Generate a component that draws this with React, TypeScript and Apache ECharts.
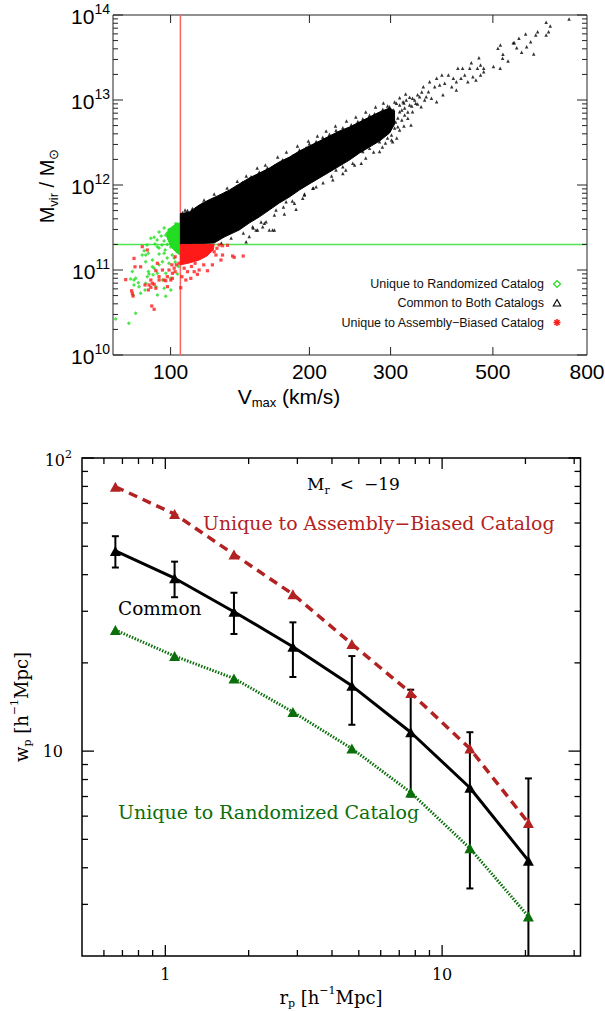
import { useEffect, useRef } from 'react';
import * as echarts from 'echarts';

type Pt = [number, number];

// ---------- Top panel: halo virial mass vs. maximum circular velocity ----------
const VMAX_CUT = 105; // km/s
const MVIR_CUT = 2.0e11; // Msun

const vmaxRange: Pt = [75, 800];
const mvirRange: Pt = [1e10, 1e14];
const vmaxTickValues = [100, 200, 300, 500];
const vmaxTickLabels = [100, 200, 300, 500, 800];
const mvirExponents = [10, 11, 12, 13, 14];
const minorSteps = [2, 3, 4, 5, 6, 7, 8, 9];

// dense ridge of haloes common to both catalogs (upper envelope, left to right)
const commonCoreUpper: Pt[] = [
  [105, 4.6e11], [109.7, 4.8e11], [115.3, 5.8e11], [121.2, 6.7e11], [127.5, 7.6e11],
  [134, 8.7e11], [140.9, 1.03e12], [148.1, 1.21e12], [155.7, 1.38e12], [163.7, 1.58e12],
  [172.1, 1.87e12], [181, 2.13e12], [190.3, 2.51e12], [200, 2.88e12], [210.3, 3.29e12],
  [221.1, 3.77e12], [232.4, 4.32e12], [244.4, 4.81e12], [256.9, 5.51e12], [270.1, 6.31e12],
  [283.9, 7.23e12], [298.5, 8.05e12], [306, 7.4e12],
];
// lower envelope, right to left
const commonCoreLower: Pt[] = [
  [306, 5.2e12], [298.5, 4.09e12], [283.9, 3.29e12], [270.1, 2.8e12], [256.9, 2.38e12],
  [244.4, 1.97e12], [232.4, 1.67e12], [221.1, 1.42e12], [210.3, 1.21e12], [200, 1.03e12],
  [190.3, 8.73e11], [181, 7.23e11], [172.1, 6.14e11], [163.7, 5.08e11], [155.7, 4.21e11],
  [148.1, 3.57e11], [140.9, 2.96e11], [130.7, 2.44e11], [124.3, 2.08e11], [105, 2.0e11],
];
const commonHalos: Pt[] = [
  // below the ridge
  [145.8, 2.15e11], [148.1, 2.47e11], [154.4, 2.96e11], [158.4, 3.23e11], [163.7, 2.96e11],
  [167.9, 2.96e11], [161.1, 3.7e11], [169.3, 5.08e11], [176.5, 4.56e11], [178, 6.37e11],
  [187.1, 5.18e11], [193.4, 6.98e11], [195.1, 7.62e11], [203.4, 9.14e11], [206.8, 9.55e11],
  [224.8, 1.15e12], [228.4, 1.5e12], [236.3, 1.37e12], [236.3, 1.64e12], [248.3, 1.8e12],
  [259.1, 1.8e12], [261.1, 2.47e12], [270.1, 2.7e12], [283.9, 3.23e12], [288.6, 4.24e12],
  [283.9, 2.47e12], [153.2, 2.96e11], [166.4, 2.96e11], [185.6, 6.1e11], [150.6, 3.23e11],
  [159.7, 3.54e11],
  [128.8, 2.08e11], [135.3, 2.38e11], [143.8, 2.72e11], [151.1, 3.12e11], [157.1, 3.67e11],
  [167.9, 4.44e11], [175.7, 5.51e11], [183.7, 6.49e11], [195.1, 7.83e11], [204.1, 9.22e11],
  [214.1, 1.06e12], [223.4, 1.28e12], [239.9, 1.5e12], [250.6, 1.72e12], [265, 2.08e12],
  [275.6, 2.44e12], [287.9, 2.8e12], [301.4, 3.38e12],
  // above the ridge
  [106.1, 4.7e11], [108.8, 5.0e11], [111.5, 5.3e11], [117.3, 6.0e11], [127.5, 7.4e11],
  [131.8, 8.1e11], [138.6, 9.4e11], [143.3, 1.07e12], [149.4, 1.25e12], [155.7, 1.42e12],
  [162.2, 1.6e12], [167.9, 1.68e12], [175, 1.98e12], [184, 2.2e12], [190.3, 2.58e12],
  [196.8, 2.75e12], [200, 3.05e12], [206.8, 3.25e12], [213.8, 3.65e12], [221.1, 3.95e12],
  [228.4, 4.4e12], [236.3, 4.7e12], [246.5, 5.1e12], [254.7, 5.6e12], [261.1, 6.0e12],
  [270.1, 6.6e12], [276.9, 6.9e12], [288.6, 7.8e12], [295.5, 8.5e12],
  [107.5, 5.08e11], [118.2, 6.67e11], [124.3, 7.83e11], [132.6, 9.22e11], [139.5, 1.11e12],
  [145.9, 1.28e12], [154.1, 1.58e12], [160.5, 1.72e12], [170.7, 2.13e12], [178.3, 2.44e12],
  [188.4, 2.88e12], [199, 3.29e12], [208.1, 3.77e12], [217.4, 4.32e12], [227.8, 4.94e12],
  [240.7, 5.66e12], [252.2, 6.31e12], [265, 7.23e12], [278.3, 8.28e12], [289.4, 9.23e12],
  // end of the ridge
  [313.8, 8.73e12], [317.3, 7.62e12], [320.7, 9.2e12], [311, 6.14e12], [307.6, 5.5e12],
  [317.3, 5.82e12], [321.8, 8.05e12], [326.9, 7.23e12], [333.4, 8.5e12], [338.3, 1.0e13],
  [343.4, 8.97e12], [343.4, 1.15e13], [350.5, 1.24e13], [355.6, 1.0e13], [329.9, 1.08e13],
  [323.4, 1.18e13], [313.8, 1.06e13], [306.1, 9.47e12], [304.5, 7.62e12], [306.1, 4.69e12],
  [301.4, 3.87e12], [295.5, 3.57e12], [292.4, 3.12e12], [313.8, 4.44e12], [320.7, 4.94e12],
  [309.4, 3.57e12],
  // sparse high-mass tail
  [303.1, 3.23e12], [311, 4.86e12], [291.1, 5.32e12], [301, 6.67e12], [298.5, 8.34e12],
  [308.9, 9.14e12], [313.8, 7.27e12], [321.8, 6.67e12], [326.9, 6.1e12], [332.2, 5.08e12],
  [334.7, 7.27e12], [329.9, 8.73e12], [319.3, 9.55e12], [324.4, 1.0e13], [334.7, 1.05e13],
  [340.2, 9.14e12], [349.4, 8.34e12], [346.8, 1.09e13], [358.4, 1.09e13], [367.9, 1.05e13],
  [377.5, 9.55e12], [389.6, 1.15e13], [362.4, 1.25e13], [353.2, 1.43e13], [373.9, 1.43e13],
  [383.3, 1.5e13], [393, 1.57e13], [364.6, 1.64e13], [377.5, 1.8e13], [387.6, 1.97e13],
  [400.4, 1.97e13], [407.2, 1.43e13], [416.6, 1.31e13], [410.3, 1.8e13], [416.6, 1.64e13],
  [426.4, 1.8e13], [434.4, 1.97e13], [419.8, 2.36e13], [429.7, 2.36e13], [441.1, 1.64e13],
  [445.4, 2.36e13], [449, 2.75e13], [452.4, 1.88e13], [459.4, 1.72e13], [462.9, 2.36e13],
  [470.1, 2.58e13], [470.1, 1.97e13], [477.6, 2.36e13], [477.6, 2.15e13], [466.4, 3.15e13],
  [501.4, 2.47e13], [518.6, 2.36e13], [512.7, 4.06e13], [519.1, 4.44e13], [525.8, 3.45e13],
  [524.8, 3.1e13], [539.3, 2.88e13], [556.4, 4.72e13], [569.4, 5.32e13], [563.1, 4.12e13],
  [577.1, 3.64e13], [588.9, 5.98e13], [591.8, 4.24e13], [553.6, 4.72e13], [613.1, 3.48e13],
  [603.8, 4.85e13], [619.4, 5.82e13], [625.2, 6.37e13], [652.2, 8.2e13], [665.8, 7.43e13],
  [660.3, 6.37e13], [652.2, 5.82e13], [731.5, 8.97e13],
];

// haloes found only in the randomized catalog
const randomizedCore: Pt[] = [
  [105, 3.6e11], [102, 3.4e11], [99, 3.0e11], [98, 2.5e11], [100, 1.9e11],
  [103, 1.6e11], [105, 1.5e11],
];
const randomizedHalos: Pt[] = [
  [76, 2.65e10], [81.2, 2.36e10], [84, 3.1e10], [83.3, 6.67e10], [84, 7.98e10],
  [85.4, 6.37e10], [86.1, 5.32e10], [88.3, 6.98e10], [89, 8.34e10], [89.5, 1.57e11],
  [91.3, 1.31e11], [92.1, 1.05e11], [90.6, 2.36e11], [92.1, 2.43e11], [93.6, 1.88e11],
  [94.4, 1.54e11], [96, 1.25e11], [96.8, 1.57e11], [97.6, 9.14e10], [99.2, 1.2e11],
  [100.1, 7.98e10], [96, 7.62e10], [92.9, 6.37e10], [87.6, 1.68e11], [97.6, 2.58e11],
  [83.3, 7.62e10], [81.9, 7.83e10], [91.3, 1.09e11], [93.6, 5.08e10], [96.8, 6.1e10],
  [94.4, 1.15e11], [93.6, 9.14e10], [88.3, 1.25e11], [89.8, 8.97e10], [82.9, 5.08e10],
  [88, 5.82e10], [86.8, 1.5e11], [102.6, 3.5e11], [99.2, 2.97e11], [101.3, 2.25e11],
  [103.3, 1.74e11], [98.3, 2.0e11], [101.8, 1.38e11], [82.6, 9.6e10], [85.1, 7.1e10],
  [97.6, 4.9e10], [100.1, 5.8e10], [88.3, 1.5e11], [89.5, 9.6e10], [91.6, 8.8e10],
  [94.4, 2.8e11], [96.8, 3.12e11], [88.9, 1.97e11], [103.5, 9.0e10], [104, 1.1e11],
  [93.5, 2.25e11], [95.4, 2.51e11], [96.8, 2.19e11], [98.3, 2.72e11], [99.2, 2.32e11],
  [100.1, 1.87e11], [97.3, 1.72e11], [94.4, 1.82e11], [101.8, 3.12e11], [103.4, 3.48e11],
  [100.8, 1.5e11], [98.3, 1.38e11], [95.8, 1.97e11], [92.5, 2.02e11], [102.3, 1.24e11],
];

// haloes found only in the assembly-biased catalog
const biasedCore: Pt[] = [
  [105, 2.0e11], [124.3, 2.0e11], [123.7, 1.72e11], [119.9, 1.46e11], [115.3, 1.31e11],
  [109.7, 1.21e11], [105, 1.15e11],
];
const biasedHalos: Pt[] = [
  [79.9, 7.7e10], [82.3, 5.7e10], [82.9, 4.94e10], [83.3, 1.37e11], [83.7, 1.09e11],
  [86.1, 1.09e11], [86.8, 1.88e11], [88, 6.67e10], [89.5, 5.82e10], [90.6, 6.25e10],
  [92.1, 6.79e10], [91, 3.77e10], [92.1, 3.45e10], [92.9, 9.82e10], [93.6, 1.2e11],
  [94.4, 8.34e10], [96, 1.0e11], [97.6, 7.48e10], [98.4, 8.34e10], [99.2, 1.0e11],
  [100.6, 1.15e11], [101.8, 1.05e11], [102.3, 1.43e11], [100.9, 7.98e10], [104.3, 1.2e11],
  [90.6, 7.62e10], [89, 1.72e11], [89.8, 6.67e10], [91.3, 6.98e10], [94.4, 7.62e10],
  [92.9, 6.1e10], [96.8, 7.62e10], [98.4, 6.37e10], [100.1, 7.62e10], [100.9, 9.14e10],
  [102.3, 9.55e10], [102.9, 1.15e11], [105.2, 6.19e10], [105.8, 8.34e10], [107.9, 7.62e10],
  [110.6, 7.98e10], [112.5, 9.55e10], [114.3, 8.89e10], [115.3, 1.0e11], [120.2, 9.8e10],
  [123.2, 1.15e11], [128.6, 1.31e11], [129.6, 1.5e11], [137.4, 1.41e11], [143.7, 1.46e11],
  [124.3, 1.64e11], [127.5, 1.97e11], [132.9, 1.95e11], [108.8, 9.55e10], [107, 1.05e11],
  [129.6, 1.93e11], [125.4, 1.5e11], [136.3, 1.46e11], [82.6, 5.3e10], [111, 1.1e11],
  [118, 1.15e11], [113, 1.2e11], [126, 1.8e11], [121, 1.85e11],
];

// ---------- Bottom panel: projected correlation function ----------
const rpRange: Pt = [0.5, 31.62];
const wpRange: Pt = [2, 100];
const rpMajorTicks = [1, 10];
const rpMinorTicks = [0.6, 0.7, 0.8, 0.9, 2, 3, 4, 5, 6, 7, 8, 9, 20, 30];
const wpMajorTicks = [10, 100];
const wpMinorTicks = [3, 4, 5, 6, 7, 8, 9, 20, 30, 40, 50, 60, 70, 80, 90];

const rp = [0.66, 1.08, 1.77, 2.89, 4.72, 7.7, 12.6, 20.5];
const wpAssemblyBiased = [79.8, 64.4, 46.9, 34.3, 23.2, 15.8, 10.2, 5.69];
const wpCommon = [48.2, 38.9, 29.9, 22.7, 16.7, 11.6, 7.5, 4.23];
const wpCommonErr = [5.9, 5.4, 4.8, 4.8, 4.4, 4.6, 4.1, 3.84];
const wpRandomized = [25.9, 21.1, 17.7, 13.6, 10.2, 7.23, 4.66, 2.73];

const SANS = '"Liberation Sans", Arial, Helvetica, sans-serif';
const SERIF = '"DejaVu Serif", serif';
const RED_BIASED = '#b22222';
const GREEN_RANDOM = '#0a6f0a';

function seg(kids: any[], x1: number, y1: number, x2: number, y2: number, stroke: string, lw: number) {
  kids.push({ type: 'line', shape: { x1, y1, x2, y2 }, style: { stroke, lineWidth: lw } });
}

// tick marks and tick labels of the halo panel
function renderTopFrame(params: any, api: any) {
  if (params.dataIndex !== 0) return null;
  const cs = params.coordSys;
  const L = cs.x, R = cs.x + cs.width, T = cs.y, B = cs.y + cs.height;
  const kids: any[] = [];
  const ink = '#222';
  for (const e of mvirExponents) {
    const base = Math.pow(10, e);
    const y = api.coord([100, base])[1];
    seg(kids, L, y, L + 10, y, ink, 1);
    seg(kids, R, y, R - 10, y, ink, 1);
    kids.push({
      type: 'text', x: L - 3, y: y + 1,
      style: {
        text: `{b|10}{p|${e}}`, align: 'right', verticalAlign: 'middle', fill: '#000',
        rich: {
          b: { fontSize: 21, fontFamily: SANS, lineHeight: 28, fill: '#000' },
          p: { fontSize: 14, fontFamily: SANS, lineHeight: 12, verticalAlign: 'top', fill: '#000' },
        },
      },
    });
    if (e < mvirExponents[mvirExponents.length - 1]) {
      for (const k of minorSteps) {
        const ym = api.coord([100, k * base])[1];
        seg(kids, L, ym, L + 5, ym, ink, 1);
        seg(kids, R, ym, R - 5, ym, ink, 1);
      }
    }
  }
  for (const v of vmaxTickValues) {
    const x = api.coord([v, 1e12])[0];
    seg(kids, x, B, x, B - 8, ink, 1);
    seg(kids, x, T, x, T + 8, ink, 1);
  }
  for (const v of vmaxTickLabels) {
    const x = api.coord([v, 1e12])[0];
    kids.push({
      type: 'text', x, y: B + 16,
      style: { text: String(v), align: 'center', verticalAlign: 'middle', fill: '#000', fontSize: 21, fontFamily: SANS },
    });
  }
  return { type: 'group', children: kids };
}

// tick marks and tick labels of the correlation-function panel
function renderBottomFrame(params: any, api: any) {
  if (params.dataIndex !== 0) return null;
  const cs = params.coordSys;
  const L = cs.x, R = cs.x + cs.width, T = cs.y, B = cs.y + cs.height;
  const kids: any[] = [];
  const ink = '#000';
  for (const w of wpMajorTicks) {
    const y = api.coord([1, w])[1];
    seg(kids, L, y, L + 12, y, ink, 1.3);
    seg(kids, R, y, R - 12, y, ink, 1.3);
  }
  for (const w of wpMinorTicks) {
    const y = api.coord([1, w])[1];
    seg(kids, L, y, L + 6, y, ink, 1.3);
    seg(kids, R, y, R - 6, y, ink, 1.3);
  }
  for (const r of rpMajorTicks) {
    const x = api.coord([r, 10])[0];
    seg(kids, x, B, x, B - 11, ink, 1.3);
    seg(kids, x, T, x, T + 11, ink, 1.3);
    kids.push({
      type: 'text', x, y: B + 18,
      style: { text: String(r), align: 'center', verticalAlign: 'middle', fill: '#000', fontSize: 16, fontFamily: SERIF },
    });
  }
  for (const r of rpMinorTicks) {
    const x = api.coord([r, 10])[0];
    seg(kids, x, B, x, B - 6, ink, 1.3);
    seg(kids, x, T, x, T + 6, ink, 1.3);
  }
  const y10 = api.coord([1, 10])[1];
  kids.push({
    type: 'text', x: L - 19, y: y10,
    style: { text: '10', align: 'right', verticalAlign: 'middle', fill: '#000', fontSize: 16, fontFamily: SERIF },
  });
  const y100 = api.coord([1, 100])[1];
  kids.push({
    type: 'text', x: L - 10, y: y100 + 2,
    style: {
      text: '{b|10}{p|2}', align: 'right', verticalAlign: 'middle', fill: '#000',
      rich: {
        b: { fontSize: 16, fontFamily: SERIF, lineHeight: 22, fill: '#000' },
        p: { fontSize: 11, fontFamily: SERIF, lineHeight: 10, verticalAlign: 'top', fill: '#000' },
      },
    },
  });
  return { type: 'group', children: kids };
}

function envelopeSeries(name: string, verts: Pt[], color: string, z: number) {
  return {
    type: 'custom', name, xAxisIndex: 0, yAxisIndex: 0, silent: true, z,
    data: verts,
    renderItem: (params: any, api: any) => {
      if (params.dataIndex !== 0) return null;
      const pts = verts.map((v) => api.coord(v));
      return { type: 'polygon', shape: { points: pts }, style: { fill: color, stroke: color, lineWidth: 1 } };
    },
  };
}

function App() {
  const ref = useRef<HTMLDivElement>(null);

  useEffect(() => {
    if (!ref.current) return;
    const chart = echarts.init(ref.current, null, { renderer: 'svg' });

    const commonCore = [...commonCoreUpper, ...commonCoreLower];

    const option: any = {
      animation: false,
      backgroundColor: '#fff',
      grid: [
        { left: 113, top: 15, width: 474, height: 340, show: true, borderColor: '#222', borderWidth: 1, backgroundColor: 'transparent' },
        { left: 82, top: 458, width: 498.5, height: 498, show: true, borderColor: '#000', borderWidth: 1.5, backgroundColor: 'transparent' },
      ],
      xAxis: [
        { type: 'log', logBase: 10, min: vmaxRange[0], max: vmaxRange[1], gridIndex: 0, show: false },
        { type: 'log', logBase: 10, min: rpRange[0], max: rpRange[1], gridIndex: 1, show: false },
      ],
      yAxis: [
        { type: 'log', logBase: 10, min: mvirRange[0], max: mvirRange[1], gridIndex: 0, show: false },
        { type: 'log', logBase: 10, min: wpRange[0], max: wpRange[1], gridIndex: 1, show: false },
      ],
      series: [
        {
          type: 'custom', name: 'topFrame', xAxisIndex: 0, yAxisIndex: 0, silent: true, z: 10,
          data: [[100, 1e12]], renderItem: renderTopFrame,
        },
        {
          type: 'line', name: 'Mvir cut', xAxisIndex: 0, yAxisIndex: 0, silent: true, z: 1,
          data: [[vmaxRange[0], MVIR_CUT], [vmaxRange[1], MVIR_CUT]],
          symbol: 'none', lineStyle: { color: '#4fe34f', width: 1.5 },
        },
        {
          type: 'line', name: 'Vmax cut', xAxisIndex: 0, yAxisIndex: 0, silent: true, z: 1,
          data: [[VMAX_CUT, mvirRange[0]], [VMAX_CUT, mvirRange[1]]],
          symbol: 'none', lineStyle: { color: '#ff6262', width: 1.5 },
        },
        envelopeSeries('randomizedCore', randomizedCore, '#22dd22', 2),
        {
          type: 'scatter', name: 'Unique to Randomized Catalog', xAxisIndex: 0, yAxisIndex: 0, silent: true, z: 2,
          data: randomizedHalos, symbol: 'diamond', symbolSize: 4, itemStyle: { color: '#22dd22' },
        },
        envelopeSeries('commonCore', commonCore, '#000', 3),
        {
          type: 'scatter', name: 'Common to Both Catalogs', xAxisIndex: 0, yAxisIndex: 0, silent: true, z: 3,
          data: commonHalos, symbol: 'triangle', symbolSize: 3.5, itemStyle: { color: '#000' },
        },
        envelopeSeries('biasedCore', biasedCore, '#ff1a1a', 4),
        {
          type: 'scatter', name: 'Unique to Assembly-Biased Catalog', xAxisIndex: 0, yAxisIndex: 0, silent: true, z: 4,
          data: biasedHalos, symbol: 'rect', symbolSize: 3.2, itemStyle: { color: '#ff1a1a' },
        },

        {
          type: 'custom', name: 'bottomFrame', xAxisIndex: 1, yAxisIndex: 1, silent: true, z: 10,
          data: [[1, 10]], renderItem: renderBottomFrame,
        },
        {
          type: 'custom', name: 'Common errors', xAxisIndex: 1, yAxisIndex: 1, silent: true, z: 2,
          data: rp.map((r, i) => [r, wpCommon[i], wpCommonErr[i]]),
          renderItem: (params: any, api: any) => {
            const r = api.value(0), w = api.value(1), e = api.value(2);
            const hiPt = api.coord([r, w + e]);
            const lowVal = w - e;
            const clipped = lowVal <= wpRange[0];
            const loPt = api.coord([r, clipped ? wpRange[0] : lowVal]);
            const cap = 3.5;
            const kids: any[] = [];
            seg(kids, hiPt[0], hiPt[1], loPt[0], loPt[1], '#000', 2);
            seg(kids, hiPt[0] - cap, hiPt[1], hiPt[0] + cap, hiPt[1], '#000', 2);
            if (!clipped) seg(kids, loPt[0] - cap, loPt[1], loPt[0] + cap, loPt[1], '#000', 2);
            return { type: 'group', children: kids };
          },
        },
        {
          type: 'line', name: 'Common', xAxisIndex: 1, yAxisIndex: 1, silent: true, z: 3,
          data: rp.map((r, i) => [r, wpCommon[i]]),
          symbol: 'triangle', symbolSize: [11, 10], showAllSymbol: true,
          lineStyle: { color: '#000', width: 3 }, itemStyle: { color: '#000' },
        },
        {
          type: 'line', name: 'Unique to Assembly-Biased Catalog', xAxisIndex: 1, yAxisIndex: 1, silent: true, z: 4,
          data: rp.map((r, i) => [r, wpAssemblyBiased[i]]),
          symbol: 'triangle', symbolSize: [11, 10], showAllSymbol: true,
          lineStyle: { color: RED_BIASED, width: 3.5, type: [9, 6] }, itemStyle: { color: RED_BIASED },
        },
        {
          type: 'line', name: 'Unique to Randomized Catalog', xAxisIndex: 1, yAxisIndex: 1, silent: true, z: 4,
          data: rp.map((r, i) => [r, wpRandomized[i]]),
          symbol: 'triangle', symbolSize: [11, 10], showAllSymbol: true,
          lineStyle: { color: GREEN_RANDOM, width: 3, type: [1.5, 1.5] }, itemStyle: { color: GREEN_RANDOM },
        },
      ],
      graphic: [
        // top panel axis titles
        {
          type: 'text', x: 289, y: 396, silent: true,
          style: {
            text: '{a|V}{s|max}{a| (km/s)}', align: 'center', verticalAlign: 'middle', fill: '#000',
            rich: {
              a: { fontSize: 21, fontFamily: SANS, lineHeight: 26, fill: '#000' },
              s: { fontSize: 13, fontFamily: SANS, lineHeight: 12, verticalAlign: 'bottom', fill: '#000' },
            },
          },
        },
        {
          type: 'text', x: 47, y: 186, rotation: Math.PI / 2, silent: true,
          style: {
            text: '{a|M}{s|vir}{a| / M}{s|⊙}', align: 'center', verticalAlign: 'middle', fill: '#000',
            rich: {
              a: { fontSize: 20, fontFamily: SANS, lineHeight: 26, fill: '#000' },
              s: { fontSize: 13, fontFamily: SANS, lineHeight: 12, verticalAlign: 'bottom', fill: '#000' },
            },
          },
        },
        // top panel key
        {
          type: 'text', x: 544, y: 284, silent: true,
          style: { text: 'Unique to Randomized Catalog', align: 'right', verticalAlign: 'middle', fill: '#111', fontSize: 12.5, fontFamily: SANS },
        },
        {
          type: 'text', x: 544, y: 303, silent: true,
          style: { text: 'Common to Both Catalogs', align: 'right', verticalAlign: 'middle', fill: '#111', fontSize: 12.5, fontFamily: SANS },
        },
        {
          type: 'text', x: 544, y: 322.5, silent: true,
          style: { text: 'Unique to Assembly−Biased Catalog', align: 'right', verticalAlign: 'middle', fill: '#111', fontSize: 12.5, fontFamily: SANS },
        },
        {
          type: 'polygon', silent: true,
          shape: { points: [[557, 280.5], [560.5, 284], [557, 287.5], [553.5, 284]] },
          style: { fill: 'none', stroke: '#22dd22', lineWidth: 1.2 },
        },
        {
          type: 'polygon', silent: true,
          shape: { points: [[557, 299.5], [560.7, 306], [553.3, 306]] },
          style: { fill: 'none', stroke: '#000', lineWidth: 1.1 },
        },
        {
          type: 'group', silent: true,
          children: [
            { type: 'line', shape: { x1: 553.5, y1: 322.5, x2: 560.5, y2: 322.5 }, style: { stroke: '#ff1a1a', lineWidth: 1.6 } },
            { type: 'line', shape: { x1: 557, y1: 319, x2: 557, y2: 326 }, style: { stroke: '#ff1a1a', lineWidth: 1.6 } },
            { type: 'line', shape: { x1: 554.5, y1: 320, x2: 559.5, y2: 325 }, style: { stroke: '#ff1a1a', lineWidth: 1.6 } },
            { type: 'line', shape: { x1: 559.5, y1: 320, x2: 554.5, y2: 325 }, style: { stroke: '#ff1a1a', lineWidth: 1.6 } },
          ],
        },
        // bottom panel annotations
        {
          type: 'text', x: 307, y: 484, silent: true,
          style: {
            text: '{a|M}{s|r}{g| }{a|<}{g| }{a|−19}', align: 'left', verticalAlign: 'middle', fill: '#000',
            rich: {
              a: { fontSize: 17, fontFamily: SERIF, lineHeight: 24, fill: '#000' },
              s: { fontSize: 11, fontFamily: SERIF, lineHeight: 10, verticalAlign: 'bottom', fill: '#000' },
              g: { fontSize: 17, fontFamily: SERIF, lineHeight: 24, width: 10, fill: '#000' },
            },
          },
        },
        {
          type: 'text', x: 203, y: 523, silent: true,
          style: { text: 'Unique to Assembly−Biased Catalog', align: 'left', verticalAlign: 'middle', fill: RED_BIASED, fontSize: 18.9, fontFamily: SERIF },
        },
        {
          type: 'text', x: 118, y: 608, silent: true,
          style: { text: 'Common', align: 'left', verticalAlign: 'middle', fill: '#000', fontSize: 18.5, fontFamily: SERIF },
        },
        {
          type: 'text', x: 118, y: 812, silent: true,
          style: { text: 'Unique to Randomized Catalog', align: 'left', verticalAlign: 'middle', fill: GREEN_RANDOM, fontSize: 19, fontFamily: SERIF },
        },
        // bottom panel axis titles
        {
          type: 'text', x: 331, y: 997, silent: true,
          style: {
            text: '{a|r}{s|p}{a| [h}{u|−1}{a|Mpc]}', align: 'center', verticalAlign: 'middle', fill: '#000',
            rich: {
              a: { fontSize: 18, fontFamily: SERIF, lineHeight: 24, fill: '#000' },
              s: { fontSize: 11, fontFamily: SERIF, lineHeight: 10, verticalAlign: 'bottom', fill: '#000' },
              u: { fontSize: 11, fontFamily: SERIF, lineHeight: 12, verticalAlign: 'top', fill: '#000' },
            },
          },
        },
        {
          type: 'text', x: 21, y: 707, rotation: Math.PI / 2, silent: true,
          style: {
            text: '{a|w}{s|p}{a| [h}{u|−1}{a|Mpc]}', align: 'center', verticalAlign: 'middle', fill: '#000',
            rich: {
              a: { fontSize: 18, fontFamily: SERIF, lineHeight: 24, fill: '#000' },
              s: { fontSize: 11, fontFamily: SERIF, lineHeight: 10, verticalAlign: 'bottom', fill: '#000' },
              u: { fontSize: 11, fontFamily: SERIF, lineHeight: 12, verticalAlign: 'top', fill: '#000' },
            },
          },
        },
      ],
    };

    chart.setOption(option);
    return () => chart.dispose();
  }, []);

  return (
    <div
      ref={ref}
      style={{ position: 'absolute', left: 0, top: 0, width: 605, height: 1011, background: '#fff' }}
    />
  );
}

export default App;
